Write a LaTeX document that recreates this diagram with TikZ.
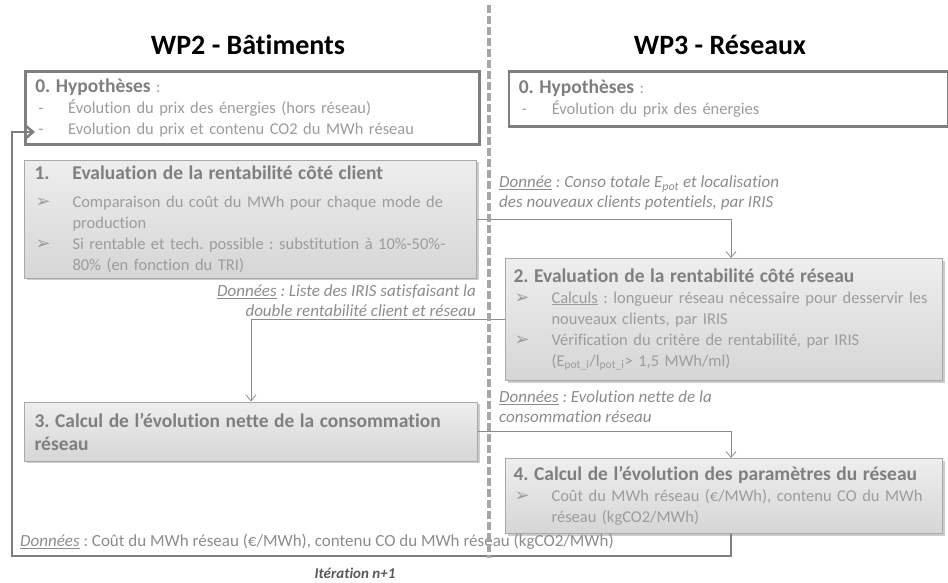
\documentclass[tikz,border=0pt]{standalone}
\usepackage{fontspec}
\setmainfont{Carlito}[Ligatures=NoCommon]
\newfontfamily\symfont{DejaVu Sans}
\usetikzlibrary{positioning}
\usetikzlibrary{arrows.meta}
\usetikzlibrary{shadows}
\frenchspacing

\definecolor{hypline}{HTML}{7F7F7F}
\definecolor{boxline}{HTML}{A8A8A8}
\definecolor{headtxt}{HTML}{7F7F7F}
\definecolor{bodytxt}{HTML}{9C9C9C}
\definecolor{lbltxt}{HTML}{8C8C8C}
\definecolor{filltop}{HTML}{EEEEEE}
\definecolor{fillbot}{HTML}{D6D6D6}
\definecolor{sepgray}{HTML}{A6A6A6}

\newcommand{\hd}[1]{{\fontsize{19.5}{23}\selectfont\bfseries\color{headtxt}#1}}
\newcommand{\puce}{\makebox[38pt][l]{\hspace{1pt}{\symfont\fontsize{18}{18}\selectfont ➢}}}
\newcommand{\suite}{\hspace*{38pt}}
\newcommand{\tiret}{\makebox[33pt][l]{\hspace{3pt}-}}

\begin{document}
\begin{tikzpicture}[x=1pt,y=-1pt]
    \tikzset{Hypothese/.style={rectangle, draw=hypline, line width=2.5pt, fill=white, anchor=north west, inner xsep=10pt, inner ysep=0pt, align=left, text=bodytxt, font=\fontsize{16.5}{21}\selectfont, drop shadow={shadow xshift=1.5pt, shadow yshift=-1.5pt, opacity=.35}}};
    \tikzset{Etape/.style={rectangle, draw=boxline, line width=1pt, top color=filltop, bottom color=fillbot, anchor=north west, inner xsep=10pt, inner ysep=0pt, align=left, text=bodytxt, font=\fontsize{16.5}{21}\selectfont, drop shadow={shadow xshift=2pt, shadow yshift=-2pt, opacity=.4}}};
    \tikzset{Donnee/.style={inner sep=0pt, text=lbltxt, font=\fontsize{17}{20}\selectfont\itshape}};
    \tikzset{Lien/.style={draw=lbltxt, line width=0.8pt, -{Straight Barb[length=6pt,width=10pt]}}};
    \tikzset{Boucle/.style={draw=hypline, line width=2.5pt, -{Straight Barb[length=7pt,width=12pt]}}};
    \useasboundingbox (0,0) rectangle (948,582);

    % titres
    \node[font=\fontsize{28}{32}\selectfont\bfseries] (wp2) at (248,45) {WP2 - Bâtiments};
    \node[font=\fontsize{28}{32}\selectfont\bfseries] (wp3) at (720,45) {WP3 - Réseaux};

    % hypotheses
    \node[Hypothese, text width=434pt, minimum height=73pt] (hypA) at (24,70) {\hd{0. Hypothèses} :\\
    \tiret Évolution du prix des énergies (hors réseau)\\
    \tiret Evolution du prix et contenu CO2 du MWh réseau};
    \node[Hypothese, text width=419pt, minimum height=55pt][right=27pt of hypA.north east, anchor=north west] (hypB) {\hd{0. Hypothèses} :\\
    \tiret Évolution du prix des énergies};

    % etapes
    \node[Etape, text width=432pt, minimum height=118pt][below=14pt of hypA.south west, anchor=north west] (eval1) {\hd{\makebox[38pt][l]{1.}Evaluation de la rentabilité côté client}\\[7pt]
    \puce Comparaison du coût du MWh pour chaque mode de\\
    \suite production\\
    \puce Si rentable et tech. possible : substitution à 10\%-50\%-\\
    \suite 80\% (en fonction du TRI)};
    \node[Etape, text width=421pt, minimum height=122pt, inner xsep=8pt] (eval2) at (505,258) {\hd{2. Evaluation de la rentabilité côté réseau}\\
    \puce \underline{Calculs} : longueur réseau nécessaire pour desservir les\\
    \suite nouveaux clients, par IRIS\\
    \puce Vérification du critère de rentabilité, par IRIS\\
    \suite (E\textsubscript{pot\_i}/l\textsubscript{pot\_i}> 1,5 MWh/ml)};
    \node[Etape, text width=433pt, minimum height=59pt][below=123pt of eval1.south west, anchor=north west] (calc3) {\hd{3. Calcul de l’évolution nette de la consommation}\\[2pt]
    \hd{réseau}};
    \node[Etape, text width=421pt, minimum height=75pt, inner xsep=8pt][below=77pt of eval2.south west, anchor=north west] (calc4) {\hd{4. Calcul de l’évolution des paramètres du réseau}\\
    \puce Coût du MWh réseau (€/MWh), contenu CO du MWh\\
    \suite réseau (kgCO2/MWh)};

    % donnees echangees
    \node[Donnee, anchor=west, align=left] (dA) at (499,193) {\underline{Donnée} : Conso totale E\textsubscript{pot} et localisation\\des nouveaux clients potentiels, par IRIS};
    \node[Donnee, anchor=east, align=right] (dB) at (476,301) {\underline{Données} : Liste des IRIS satisfaisant la\\double rentabilité client et réseau};
    \node[Donnee, anchor=west, align=left] (dC) at (499,407) {\underline{Données} : Evolution nette de la\\consommation réseau};
    \node[Donnee, anchor=west, font=\fontsize{17}{20}\selectfont] (dD) at (20,542) {\textit{\underline{Données}} : Coût du MWh réseau (€/MWh), contenu CO du MWh réseau (kgCO2/MWh)};
    \node[text=black!65, font=\fontsize{15}{18}\selectfont\bfseries\itshape] (iter) at (355,573) {Itération n+1};

    % liens
    \coordinate (axe) at (731,0);
    \draw[Lien] (eval1.east) -| (eval2.north -| axe);
    \draw[Lien] (eval2.west) -| (calc3.north);
    \draw[Lien] (calc3.east) -| (calc4.north -| axe);

    % boucle d'iteration
    \coordinate (coin) at (12,556);
    \coordinate (entree) at (35,132);
    \draw[Boucle] (calc4.south -| axe) |- (coin) |- (entree);

    % separation WP2 / WP3
    \coordinate (septop) at (489,5);
    \coordinate (sepbot) at (489,558);
    \draw[sepgray, line width=3.5pt, dash pattern=on 8pt off 3pt] (septop) -- (sepbot);
\end{tikzpicture}
\end{document}
